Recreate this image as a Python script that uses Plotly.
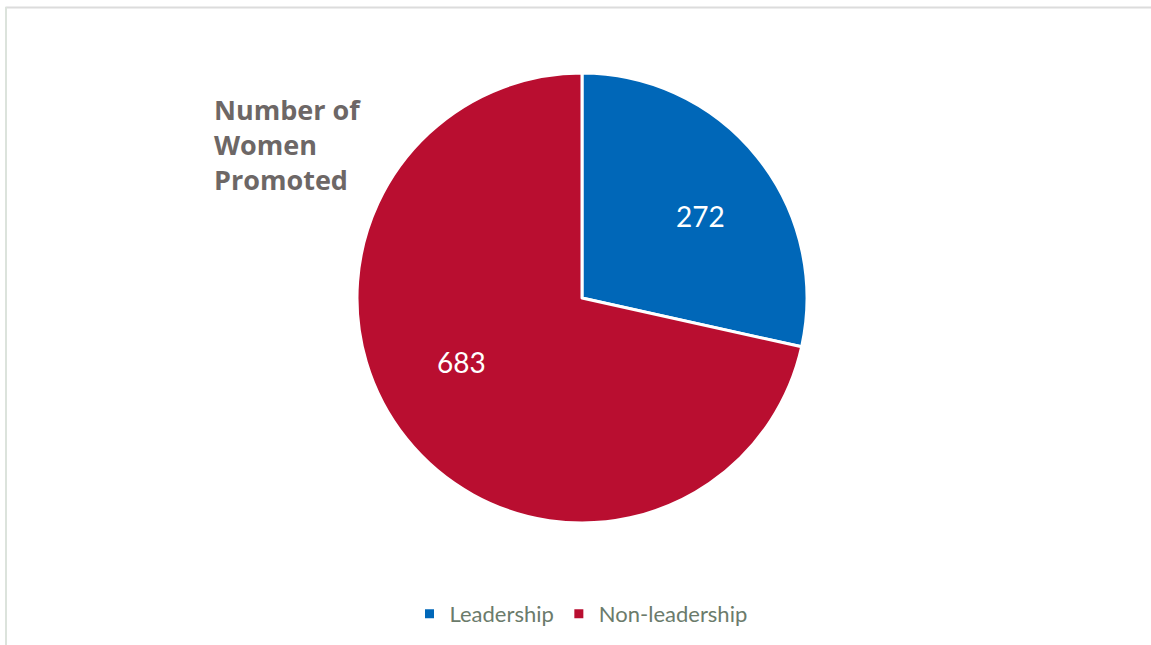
import plotly.graph_objects as go

categories = ["Leadership", "Non-leadership"]
promoted = [272, 683]
slice_colors = ["#0067B8", "#B90E30"]
# value-label centres inside each slice, in pixels from the top-left corner
label_px = [(701, 216), (461, 362)]

W, H = 1151, 645
cx, cy, r = 582, 298, 225

fig = go.Figure()
fig.add_trace(go.Pie(
    labels=categories,
    values=promoted,
    sort=False,
    direction="clockwise",
    rotation=0,
    marker=dict(colors=slice_colors, line=dict(color="white", width=3)),
    textinfo="none",
    domain=dict(x=[(cx - r) / W, (cx + r) / W],
                y=[(H - cy - r) / H, (H - cy + r) / H]),
    hoverinfo="label+value",
    showlegend=True,
))

annotations = [
    dict(text=str(v), x=px / W, y=1 - py / H, xref="paper", yref="paper",
         xanchor="center", yanchor="middle", showarrow=False,
         font=dict(family="Lato", size=28, color="white"))
    for v, (px, py) in zip(promoted, label_px)
]

fig.update_layout(
    width=W, height=H,
    margin=dict(l=0, r=0, t=0, b=0),
    paper_bgcolor="white",
    plot_bgcolor="white",
    title=dict(
        text="<b>Number of<br>Women<br>Promoted</b>",
        x=214 / W, xanchor="left",
        y=1 - 120 / H, yanchor="top",
        font=dict(family="Open Sans", size=27, color="#6D6766"),
    ),
    legend=dict(
        orientation="h",
        x=581 / W, xanchor="center",
        y=1 - 614 / H, yanchor="middle",
        font=dict(family="Lato", size=22, color="#6B7B6B"),
        itemwidth=30,
    ),
    annotations=annotations,
    shapes=[
        dict(type="line", xref="paper", yref="paper",
             x0=5.5 / W, x1=1, y0=1 - 7.5 / H, y1=1 - 7.5 / H,
             line=dict(color="#DCDCDC", width=2)),
        dict(type="line", xref="paper", yref="paper",
             x0=6 / W, x1=6 / W, y0=0, y1=1 - 7 / H,
             line=dict(color="#DCE3DC", width=2)),
    ],
)

fig.write_html("out.html")
